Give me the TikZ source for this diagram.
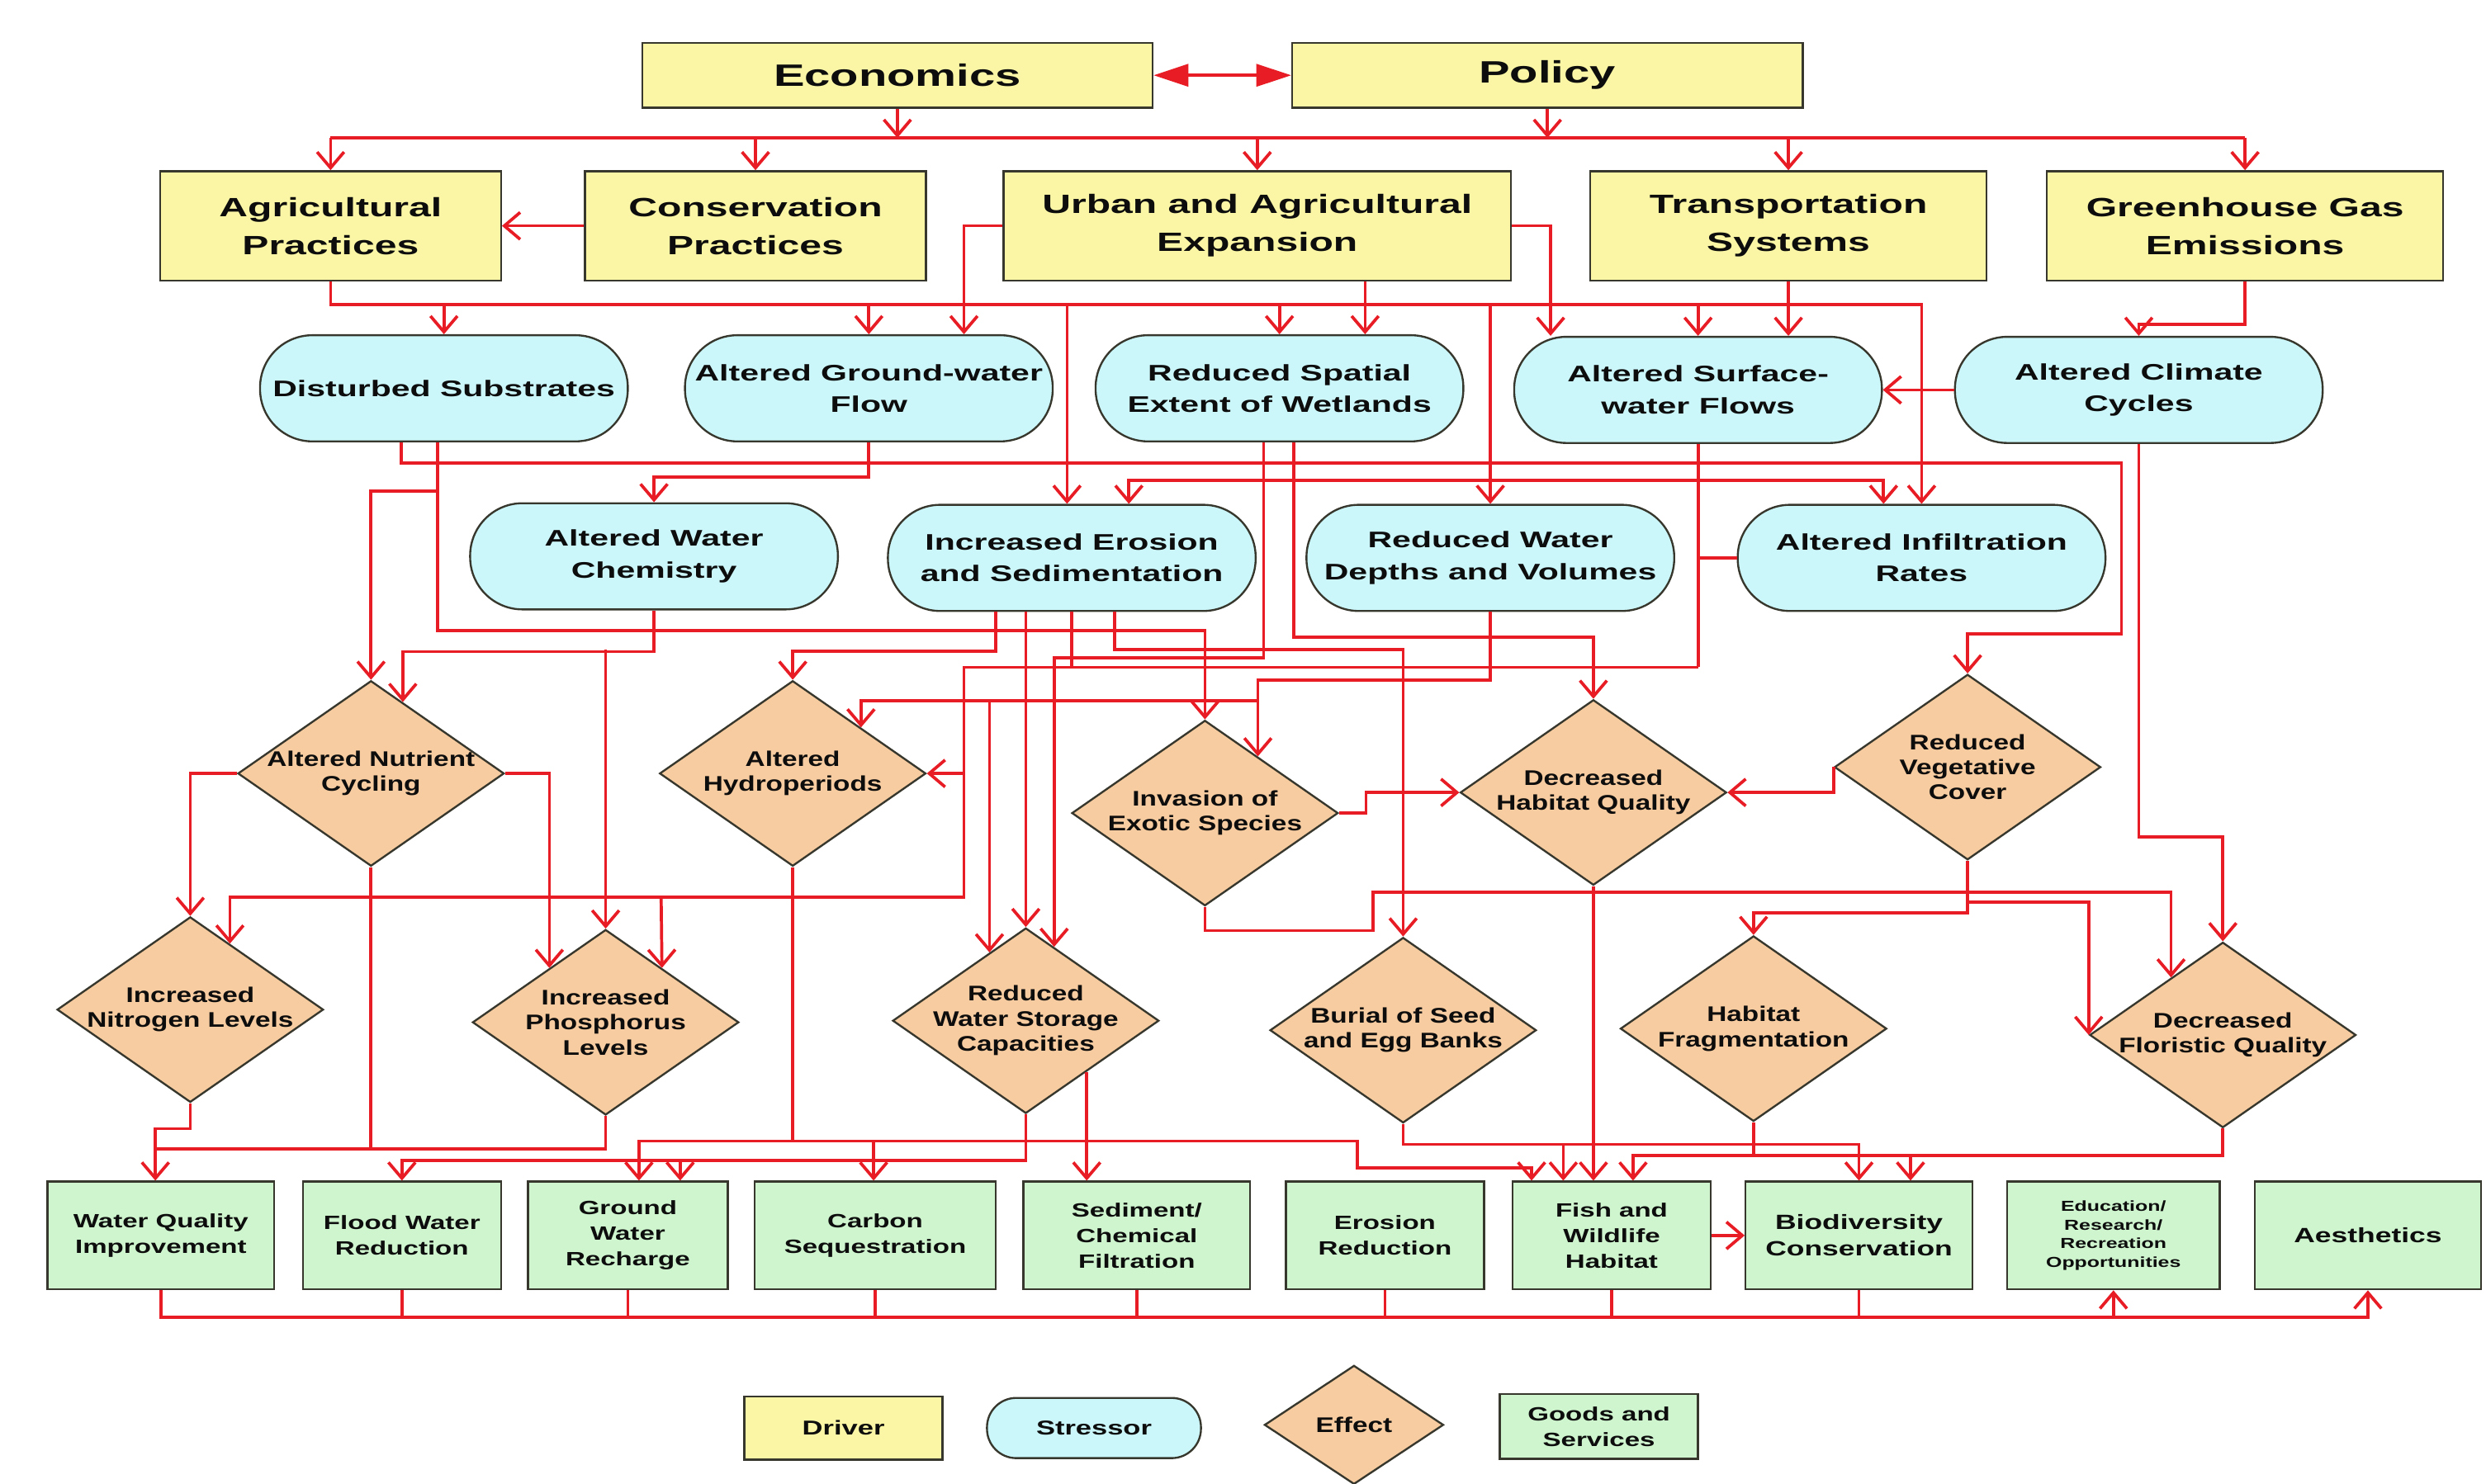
\documentclass[tikz,border=0pt]{standalone}
\usepackage{fontspec}
\newfontfamily\drvfont{Liberation Sans}[FakeStretch=1.5]
\newfontfamily\efffont{Liberation Sans}[FakeStretch=1.3]
\newfontfamily\gdsfont{Liberation Sans}[FakeStretch=1.42]
\usepackage{tikz}
\usetikzlibrary{arrows.meta, shapes.geometric}
\definecolor{drvfill}{RGB}{250,246,165}
\definecolor{strfill}{RGB}{204,247,250}
\definecolor{efffill}{RGB}{247,204,160}
\definecolor{gdsfill}{RGB}{207,245,207}
\definecolor{boxline}{RGB}{55,55,45}
\definecolor{linkred}{RGB}{232,28,36}
\tikzset{%
  % Specifications for style of nodes:
            base/.style = {draw=boxline, line width=0.7pt, align=center,
                           text=black!95, inner sep=0pt},
            driver/.style = {base, rectangle, fill=drvfill, minimum height=1.38cm,
                           font=\drvfont\bfseries\fontsize{9.5}{13.6}\selectfont},
            topdriver/.style = {driver, minimum width=6.44cm, minimum height=0.82cm,
                           font=\drvfont\bfseries\fontsize{11.1}{13}\selectfont},
            stressor/.style = {base, rectangle, rounded corners=0.66cm, fill=strfill,
                           minimum width=4.64cm, minimum height=1.34cm,
                           font=\drvfont\bfseries\fontsize{8.1}{11.4}\selectfont},
            effect/.style = {base, diamond, aspect=1.44, fill=efffill,
                           minimum width=3.36cm, minimum height=2.34cm, inner sep=-0.1cm,
                           font=\efffont\bfseries\fontsize{7.6}{9}\selectfont},
            goods/.style = {base, rectangle, fill=gdsfill, minimum height=1.36cm,
                           font=\gdsfont\bfseries\fontsize{6.9}{9.2}\selectfont},
  % Specifications for style of connectors:
            link/.style = {draw=linkred, line width=1.1pt},
            arr/.style = {link, -{Straight Barb[length=2mm, width=3.4mm]}},
            dbl/.style = {link, {Triangle[length=4.4mm, width=2.8mm]}-{Triangle[length=4.4mm, width=2.8mm]}},
 }

\begin{document}
\begin{tikzpicture}[x=0.02cm, y=-0.02cm]
  \useasboundingbox (0,0) rectangle (1568,936);
  % Specification of nodes (position, etc.)
     \node (econ) [topdriver] at (566,47.5) {Economics};
     \node (policy) [topdriver] at (976,47.5) {Policy};

     \node (agr) [driver, minimum width=4.3cm] at (208.5,142.5) {Agricultural\\Practices};
     \node (cons) [driver, minimum width=4.3cm] at (476.5,142.5) {Conservation\\Practices};
     \node (urban) [driver, minimum width=6.4cm] at (793,142.5) {Urban and Agricultural\\Expansion};
     \node (transp) [driver, minimum width=5cm] at (1128,142.5) {Transportation\\Systems};
     \node (ghg) [driver, minimum width=5cm] at (1416,142.5) {Greenhouse Gas\\Emissions};

     \node (dist) [stressor] at (280,245) {Disturbed Substrates};
     \node (gw) [stressor] at (548,245) {Altered Ground-water\\Flow};
     \node (spat) [stressor] at (807,245) {Reduced Spatial\\Extent of Wetlands};
     \node (surf) [stressor] at (1071,246) {Altered Surface-\\water Flows};
     \node (clim) [stressor] at (1349,246) {Altered Climate\\Cycles};

     \node (wchem) [stressor] at (412.5,351) {Altered Water\\Chemistry};
     \node (eros) [stressor] at (676,352) {Increased Erosion\\and Sedimentation};
     \node (depth) [stressor] at (940,352) {Reduced Water\\Depths and Volumes};
     \node (infil) [stressor] at (1212,352) {Altered Infiltration\\Rates};

     \node (nutr) [effect] at (234,488) {Altered Nutrient\\Cycling};
     \node (hydro) [effect] at (500,488) {Altered\\Hydroperiods};
     \node (inv) [effect] at (760,513) {Invasion of\\Exotic Species};
     \node (habq) [effect] at (1005,500) {Decreased\\Habitat Quality};
     \node (veg) [effect] at (1241,484) {Reduced\\Vegetative\\Cover};

     \node (nitro) [effect] at (120,637) {Increased\\Nitrogen Levels};
     \node (phos) [effect] at (382,645) {Increased\\Phosphorus\\Levels};
     \node (stor) [effect] at (647,644) {Reduced\\Water Storage\\Capacities};
     \node (burial) [effect] at (885,650) {Burial of Seed\\and Egg Banks};
     \node (frag) [effect] at (1106,649) {Habitat\\Fragmentation};
     \node (flor) [effect] at (1402,653) {Decreased\\Floristic Quality};

     \node (wqi) [goods, minimum width=2.86cm] at (101.5,779.5) {Water Quality\\Improvement};
     \node (flood) [goods, minimum width=2.5cm] at (253.5,779.5) {Flood Water\\Reduction};
     \node (gwr) [goods, minimum width=2.52cm] at (396,779.5) {Ground\\Water\\Recharge};
     \node (carb) [goods, minimum width=3.04cm] at (552,779.5) {Carbon\\Sequestration};
     \node (sed) [goods, minimum width=2.86cm] at (717,779.5) {Sediment/\\Chemical\\Filtration};
     \node (erosr) [goods, minimum width=2.5cm] at (873.5,779.5) {Erosion\\Reduction};
     \node (fish) [goods, minimum width=2.5cm] at (1016.5,779.5) {Fish and\\Wildlife\\Habitat};
     \node (bio) [goods, minimum width=2.86cm, font=\gdsfont\bfseries\fontsize{7.4}{9.6}\selectfont] at (1172.5,779.5) {Biodiversity\\Conservation};
     \node (edu) [goods, minimum width=2.68cm, font=\gdsfont\bfseries\fontsize{5.2}{6.7}\selectfont] at (1333,779.5) {Education/\\Research/\\Recreation\\Opportunities};
     \node (aest) [goods, minimum width=2.86cm, font=\gdsfont\bfseries\fontsize{7.4}{9.6}\selectfont] at (1493.5,779.5) {Aesthetics};

     % legend
     \node (lgdrv) [driver, minimum width=2.5cm, minimum height=0.8cm, font=\gdsfont\bfseries\fontsize{7.2}{9}\selectfont] at (532,901) {Driver};
     \node (lgstr) [stressor, minimum width=2.7cm, minimum height=0.76cm, rounded corners=0.37cm, font=\gdsfont\bfseries\fontsize{7.2}{9}\selectfont] at (690,901) {Stressor};
     \node (lgeff) [effect, aspect=1.5, minimum width=2.26cm, minimum height=1.5cm] at (854,899) {Effect};
     \node (lggds) [goods, minimum width=2.5cm, minimum height=0.82cm] at (1008.5,900) {Goods and\\Services};

     \coordinate (topbus) at (0,87);
     \coordinate (agbus) at (0,192);
     \coordinate (goodsbus) at (0,831);

     % drivers
     \draw[dbl] (econ.east) -- (policy.west);
     \draw[arr] (econ.south) -- (econ.south |- topbus);
     \draw[arr] (policy.south) -- (policy.south |- topbus);
     \draw[link] (agr.north |- topbus) -- (ghg.north |- topbus);
     \foreach \n in {agr, cons, urban, transp, ghg}
       \draw[arr] (\n.north |- topbus) -- (\n.north);
     \draw[arr] (cons.west) -- (agr.east);

     % drivers to stressors
     \draw[arr] (agr.south) |- (infil.north |- agbus) -- (infil.north);
     \foreach \n in {dist, gw, spat, depth, surf}
       \draw[arr] (\n.north |- agbus) -- (\n.north);
     \draw[arr] (673,0 |- agbus) -- (673,0 |- eros.north);
     \draw[arr] (urban.west) -| (608,0 |- gw.north);
     \draw[arr] (861,0 |- urban.south) -- (861,0 |- spat.north);
     \draw[arr] (urban.east) -| (978,0 |- surf.north);
     \draw[arr] (transp.south) -- (transp.south |- surf.north);
     \draw[arr] (ghg.south) -- ++(0,27) -| (clim.north);
     \draw[arr] (clim.west) -- (surf.east);

     % stressors to stressors and effects
     \draw[arr] (gw.south) -- ++(0,22) -| (wchem.north);
     \draw[arr] (253,0 |- dist.south) -- (253,292) -- (1338,292) -- (1338,400) -| (veg.north);
     \draw[arr] (276,0 |- dist.south) -- (276,310) -| (nutr.north);
     \draw[arr] (276,310) -- (276,398) -| (inv.north);
     \draw[link] (surf.south) -- (1071,421);
     \draw[arr] (1071,303) -| (712,0 |- eros.north);
     \draw[arr] (1071,303) -| (1188,0 |- infil.north);
     \draw[link] (infil.west) -- (infil.west -| surf.south);
     \draw[arr] (1071,421) -| (608,566) -| (nitro.59);
     \draw[arr] (608,0 |- hydro.east) -- (hydro.east);
     \draw[arr] (417,566) -- (phos.44);

     \draw[arr] (wchem.south) -- ++(0,26) -| (nutr.66);
     \draw[arr] (phos.north |- 0,410) -- (phos.north);

     \draw[arr] (628,0 |- eros.south) |- (500,411) -- (hydro.north);
     \draw[arr] (stor.north |- eros.south) -- (stor.north);
     \draw[link] (676,0 |- eros.south) -- (676,421);
     \draw[arr] (703,0 |- eros.south) -- (703,410) -| (burial.north);

     \draw[arr] (797,0 |- spat.south) -- (797,415) -| (stor.69);
     \draw[arr] (816,0 |- spat.south) -- (816,402) -| (habq.north);

     \draw[arr] (depth.south) -- (depth.south |- 0,429) -| (inv.47);
     \draw[arr] (inv.47 |- 0,442) -| (hydro.34);
     \draw[arr] (stor.118 |- 0,442) -- (stor.118);

     % effects to effects
     \draw[arr] (nutr.west) -| (nitro.north);
     \draw[arr] (nutr.east) -| (phos.136);
     \draw[arr] (inv.east) -- ++(17,0) |- (habq.west);
     \draw[arr] (veg.west) |- (habq.east);
     \draw[arr] (inv.south) -- ++(0,15) -| (866,563) -| (flor.132);
     \draw[arr] (veg.south) -- (1241,569) -| (flor.west);
     \draw[arr] (veg.south) -- (1241,576) -| (frag.north);
     \draw[arr] (clim.south) -- (clim.south |- 0,528) -| (flor.north);

     % effects to goods and services
     \draw[arr] (nitro.south) -- ++(0,16) -| (98,0 |- wqi.north);
     \draw[link] (nutr.south) -- (nutr.south |- 0,725);
     \draw[link] (phos.south) |- (98,725);
     \draw[arr] (hydro.south) |- (403,720) -- (403,0 |- gwr.north);
     \draw[arr] (hydro.south |- 0,720) -- (856,720) |- (966,737) -- (966,0 |- fish.north);
     \draw[arr] (551,720) -- (551,0 |- carb.north);
     \draw[arr] (stor.south) |- (flood.north |- 0,732) -- (flood.north);
     \draw[arr] (429,732) -- (429,0 |- gwr.north);
     \draw[arr] (stor.-40) -- (stor.-40 |- sed.north);
     \draw[arr] (habq.south) -- (habq.south |- fish.north);
     \draw[arr] (burial.south) |- (986,722) -- (986,0 |- fish.north);
     \draw[arr] (986,722) -| (bio.north);
     \draw[arr] (flor.south) |- (1030,729) -- (1030,0 |- fish.north);
     \draw[link] (frag.south) -- (frag.south |- 0,729);
     \draw[arr] (1205,729) -- (1205,0 |- bio.north);
     \draw[arr] (fish.east) -- (bio.west);

     % goods and services bus
     \draw[arr] (wqi.south) |- (aest.south |- goodsbus) -- (aest.south);
     \foreach \n in {flood, gwr, carb, sed, erosr, fish, bio}
       \draw[link] (\n.south) -- (\n.south |- goodsbus);
     \draw[arr] (edu.south |- goodsbus) -- (edu.south);

\end{tikzpicture}
\end{document}
